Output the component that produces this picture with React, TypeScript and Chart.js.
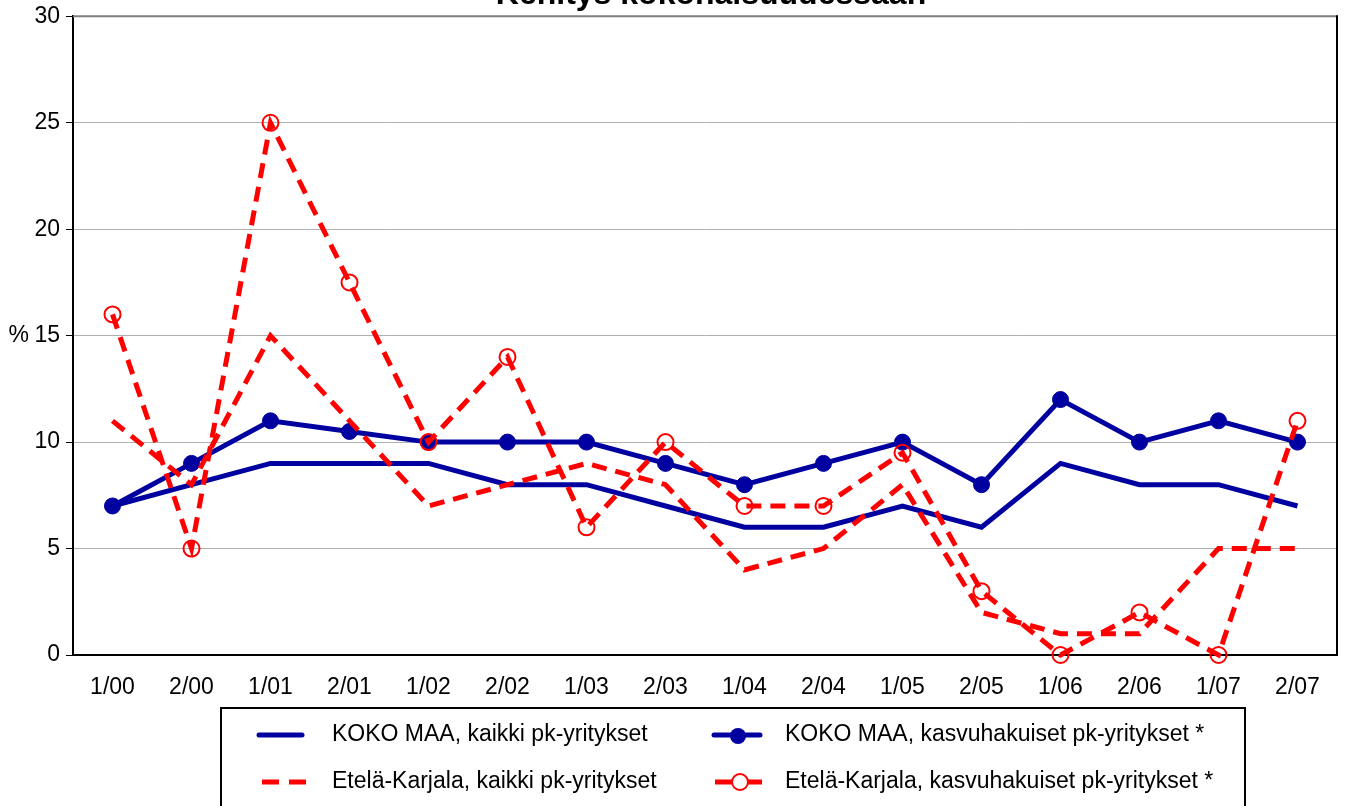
import React, { useEffect, useRef } from "react";
import { Chart, registerables } from "chart.js";

Chart.register(...registerables);

const categories = ["1/00", "2/00", "1/01", "2/01", "1/02", "2/02", "1/03", "2/03", "1/04", "2/04", "1/05", "2/05", "1/06", "2/06", "1/07", "2/07"];
const kokoMaaKaikki = [7, 8, 9, 9, 9, 8, 8, 7, 6, 6, 7, 6, 9, 8, 8, 7];
const kokoMaaKasvu = [7, 9, 11, 10.5, 10, 10, 10, 9, 8, 9, 10, 8, 12, 10, 11, 10];
const ekKaikki = [11, 8, 15, 11, 7, 8, 9, 8, 4, 5, 8, 2, 1, 1, 5, 5];
const ekKasvu = [16, 5, 25, 17.5, 10, 14, 6, 10, 7, 7, 9.5, 3, 0, 2, 0, 11];
const yTicks = [0, 5, 10, 15, 20, 25, 30];

const legendLabels = [
  "KOKO MAA, kaikki pk-yritykset",
  "KOKO MAA, kasvuhakuiset pk-yritykset *",
  "Etelä-Karjala, kaikki pk-yritykset",
  "Etelä-Karjala, kasvuhakuiset pk-yritykset *",
];
const titleText = "Kehitys kokonaisuudessaan";

const BLUE = "#0000a0";
const RED = "#ff0000";
const FONT = "'Liberation Sans', Arial, sans-serif";

const decorPlugin = {
  id: "decor",
  afterDraw(chart: any) {
    const ctx = chart.ctx;
    const ca = chart.chartArea;
    ctx.save();
    // top gray border and right black border
    ctx.strokeStyle = "#808080";
    ctx.lineWidth = 2;
    ctx.beginPath();
    ctx.moveTo(ca.left, ca.top);
    ctx.lineTo(ca.right, ca.top);
    ctx.stroke();
    ctx.strokeStyle = "#000";
    ctx.beginPath();
    ctx.moveTo(ca.right, ca.top - 1);
    ctx.lineTo(ca.right, ca.bottom);
    ctx.stroke();

    // clipped title
    ctx.fillStyle = "#000";
    ctx.font = "bold 32px " + FONT;
    ctx.textAlign = "center";
    ctx.textBaseline = "alphabetic";
    ctx.fillText(titleText, 711, 4);

    // % label
    ctx.font = "23px " + FONT;
    ctx.textAlign = "right";
    ctx.textBaseline = "middle";
    const y15 = chart.scales.y.getPixelForValue(15);
    ctx.fillText("%", 29, y15);

    // legend box
    ctx.strokeStyle = "#000";
    ctx.lineWidth = 2;
    ctx.strokeRect(221, 708, 1024, 110);

    ctx.textAlign = "left";
    ctx.textBaseline = "middle";
    ctx.font = "23px " + FONT;
    const r1 = 735;
    const r2 = 782;
    // item 1
    ctx.strokeStyle = BLUE;
    ctx.lineWidth = 5;
    ctx.lineCap = "round";
    ctx.beginPath();
    ctx.moveTo(259, r1);
    ctx.lineTo(302, r1);
    ctx.stroke();
    ctx.fillStyle = "#000";
    ctx.fillText(legendLabels[0], 332, r1);
    // item 2
    ctx.beginPath();
    ctx.moveTo(714, r1);
    ctx.lineTo(760, r1);
    ctx.stroke();
    ctx.fillStyle = BLUE;
    ctx.beginPath();
    ctx.arc(738, r1 + 1, 8, 0, Math.PI * 2);
    ctx.fill();
    ctx.fillStyle = "#000";
    ctx.fillText(legendLabels[1], 785, r1);
    // item 3
    ctx.lineCap = "butt";
    ctx.strokeStyle = RED;
    ctx.setLineDash([17, 10]);
    ctx.beginPath();
    ctx.moveTo(262, r2);
    ctx.lineTo(306, r2);
    ctx.stroke();
    ctx.setLineDash([]);
    ctx.fillStyle = "#000";
    ctx.fillText(legendLabels[2], 332, r2);
    // item 4
    ctx.beginPath();
    ctx.moveTo(715, r2);
    ctx.lineTo(762, r2);
    ctx.stroke();
    ctx.fillStyle = "#fff";
    ctx.lineWidth = 2;
    ctx.beginPath();
    ctx.arc(740, r2, 8, 0, Math.PI * 2);
    ctx.fill();
    ctx.stroke();
    ctx.fillStyle = "#000";
    ctx.fillText(legendLabels[3], 785, r2);
    ctx.restore();
  },
};

export default function App() {
  const ref = useRef<HTMLCanvasElement>(null);
  useEffect(() => {
    const canvas = ref.current;
    if (!canvas) return;
    const chart = new Chart(canvas, {
      type: "line",
      data: {
        labels: categories,
        datasets: [
          {
            label: legendLabels[0],
            data: kokoMaaKaikki,
            borderColor: BLUE,
            backgroundColor: BLUE,
            borderWidth: 5,
            pointRadius: 0,
            pointHoverRadius: 0,
            tension: 0,
            order: 3,
            clip: false,
          },
          {
            label: legendLabels[1],
            data: kokoMaaKasvu,
            borderColor: BLUE,
            backgroundColor: BLUE,
            borderWidth: 5,
            pointRadius: 8,
            pointBackgroundColor: BLUE,
            pointBorderColor: BLUE,
            pointBorderWidth: 1,
            tension: 0,
            order: 2,
            clip: false,
          },
          {
            label: legendLabels[2],
            data: ekKaikki,
            borderColor: RED,
            backgroundColor: RED,
            borderWidth: 5,
            borderDash: [15, 9],
            pointRadius: 0,
            pointHoverRadius: 0,
            tension: 0,
            order: 1,
            clip: false,
          },
          {
            label: legendLabels[3],
            data: ekKasvu,
            borderColor: RED,
            backgroundColor: RED,
            borderWidth: 5,
            borderDash: [15, 9],
            pointRadius: 8,
            pointBackgroundColor: "rgba(255,255,255,0)",
            pointBorderColor: RED,
            pointBorderWidth: 2,
            tension: 0,
            order: 0,
            clip: false,
          },
        ],
      },
      options: {
        animation: false,
        responsive: false,
        events: [],
        layout: { padding: { top: 16, right: 9, left: 0, bottom: 0 } },
        plugins: {
          legend: { display: false },
          tooltip: { enabled: false },
          title: { display: false },
        },
        scales: {
          x: {
            type: "category",
            offset: true,
            grid: { display: false },
            border: { display: true, color: "#000", width: 2 },
            ticks: {
              color: "#000",
              font: { family: FONT, size: 23 },
              padding: 11,
              maxRotation: 0,
              autoSkip: false,
            },
            afterFit(scale: any) {
              scale.height = 151;
            },
          },
          y: {
            min: 0,
            max: 30,
            afterBuildTicks(scale: any) {
              scale.ticks = yTicks.map((v) => ({ value: v }));
            },
            grid: {
              color: "#b0b0b0",
              lineWidth: 1,
              tickColor: "#000",
              tickLength: 7,
              drawTicks: true,
            },
            border: { display: true, color: "#000", width: 2 },
            ticks: {
              color: "#000",
              font: { family: FONT, size: 23, lineHeight: 0.9 },
              padding: 6,
            },
            afterFit(scale: any) {
              scale.width = 73;
            },
          },
        },
      },
      plugins: [decorPlugin],
    });
    return () => chart.destroy();
  }, []);
  return (
    <canvas
      ref={ref}
      width={1347}
      height={806}
      style={{ position: "absolute", left: 0, top: 0, width: 1347, height: 806 }}
    />
  );
}
